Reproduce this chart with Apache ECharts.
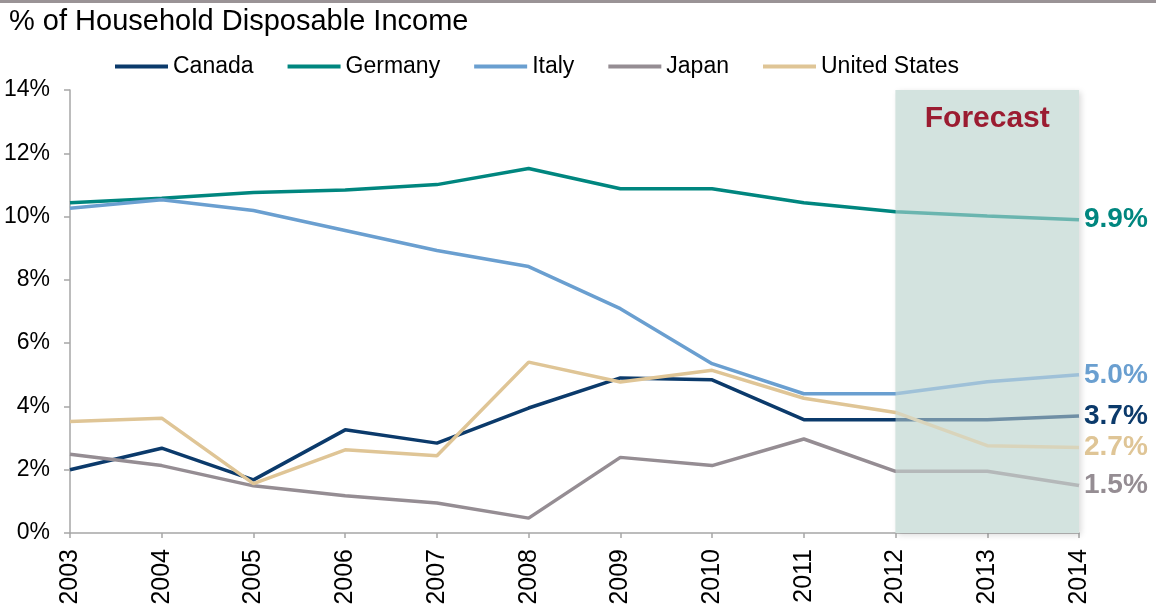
<!DOCTYPE html>
<html>
<head>
<meta charset="utf-8">
<title>% of Household Disposable Income</title>
<script src="https://cdn.jsdelivr.net/npm/echarts@6/dist/echarts.min.js"></script>
<style>
  html, body { margin: 0; padding: 0; background: #fff; }
  #chart { width: 1156px; height: 604px; }
</style>
</head>
<body>
<div id="chart"></div>
<script>
// Household savings rate, % of disposable income (2012–2014 forecast)
const years = ['2003', '2004', '2005', '2006', '2007', '2008', '2009', '2010', '2011', '2012', '2013', '2014'];
const canada  = [2.0, 2.68, 1.68, 3.26, 2.84, 3.95, 4.90, 4.84, 3.58, 3.58, 3.58, 3.7];
const germany = [10.44, 10.58, 10.76, 10.84, 11.01, 11.52, 10.88, 10.88, 10.44, 10.15, 10.02, 9.9];
const italy   = [10.26, 10.53, 10.19, 9.56, 8.93, 8.42, 7.09, 5.35, 4.40, 4.40, 4.78, 5.0];
const japan   = [2.49, 2.13, 1.49, 1.18, 0.95, 0.47, 2.39, 2.13, 2.97, 1.95, 1.95, 1.5];
const us      = [3.52, 3.63, 1.56, 2.63, 2.44, 5.40, 4.77, 5.14, 4.26, 3.81, 2.76, 2.7];
const forecastStart = '2012';
const forecastEnd = '2014';

const FONT = '"Liberation Sans", Arial, Helvetica, sans-serif';
const palette = {
  Canada: '#0b3a6b',
  Germany: '#00867f',
  Italy: '#6a9fd0',
  Japan: '#958d93',
  'United States': '#dfc596'
};
const bandColor = '#d3e3df';

function lineSeries(name, data) {
  return {
    name: name,
    type: 'line',
    data: data,
    z: 3,
    symbol: 'none',
    lineStyle: { width: 3.5, color: palette[name] },
    itemStyle: { color: palette[name] },
    endLabel: {
      show: true,
      distance: 5,
      formatter: p => Number(p.value).toFixed(1) + '%',
      color: palette[name],
      fontFamily: FONT,
      fontSize: 28,
      fontWeight: 'bold'
    }
  };
}

const bandRange = [[{ xAxis: forecastStart }, { xAxis: forecastEnd }]];

const chart = echarts.init(document.getElementById('chart'), null, { renderer: 'canvas' });

chart.setOption({
  animation: false,
  backgroundColor: '#ffffff',
  color: Object.values(palette),
  graphic: [
    { type: 'rect', left: 0, top: 0, shape: { width: 1156, height: 3 }, style: { fill: '#9a9396' } }
  ],
  title: {
    text: '% of Household Disposable Income',
    left: 9,
    top: 7,
    padding: 0,
    textStyle: { fontFamily: FONT, fontSize: 29, fontWeight: 'normal', color: '#000' }
  },
  legend: {
    data: ['Canada', 'Germany', 'Italy', 'Japan', 'United States'],
    left: 115,
    top: 55,
    padding: 0,
    icon: 'rect',
    itemWidth: 53,
    itemHeight: 4,
    itemGap: 34,
    textStyle: { fontFamily: FONT, fontSize: 23, color: '#000' }
  },
  grid: { left: 70, right: 77, top: 90, bottom: 71, containLabel: false, outerBoundsMode: 'none' },
  xAxis: {
    type: 'category',
    data: years,
    boundaryGap: false,
    axisLine: { lineStyle: { color: '#a6a6a6', width: 1.5 } },
    axisTick: { show: true, length: 5, lineStyle: { color: '#a6a6a6', width: 1.5 } },
    axisLabel: {
      rotate: 90,
      margin: 16,
      fontFamily: FONT,
      fontSize: 25,
      color: '#000'
    },
    splitLine: { show: false }
  },
  yAxis: {
    type: 'value',
    min: 0,
    max: 14,
    interval: 2,
    axisLine: { show: true, lineStyle: { color: '#a6a6a6', width: 1.5 } },
    axisTick: { show: true, length: 6, lineStyle: { color: '#a6a6a6', width: 1.5 } },
    axisLabel: {
      formatter: '{value}%',
      margin: 20,
      fontFamily: FONT,
      fontSize: 23,
      color: '#000'
    },
    splitLine: { show: false }
  },
  series: [
    {
      // opaque forecast band with soft shadow, underneath the lines
      name: 'forecast-base',
      type: 'line',
      data: [],
      z: 1,
      silent: true,
      markArea: {
        z: 1,
        silent: true,
        itemStyle: {
          color: bandColor,
          shadowBlur: 6,
          shadowColor: 'rgba(0,0,0,0.15)',
          shadowOffsetX: 2,
          shadowOffsetY: 2
        },
        data: bandRange
      }
    },
    lineSeries('Canada', canada),
    lineSeries('Germany', germany),
    lineSeries('Italy', italy),
    lineSeries('Japan', japan),
    lineSeries('United States', us),
    {
      // translucent wash over the forecast years, fading the lines
      name: 'forecast-wash',
      type: 'line',
      data: [],
      z: 10,
      silent: true,
      markArea: {
        z: 10,
        silent: true,
        itemStyle: { color: 'rgba(211,227,223,0.5)' },
        label: {
          show: true,
          position: 'insideTop',
          distance: 14,
          color: '#9b1c31',
          fontFamily: FONT,
          fontSize: 30,
          fontWeight: 'bold'
        },
        data: [[{ xAxis: forecastStart, name: 'Forecast' }, { xAxis: forecastEnd }]]
      }
    }
  ]
});
</script>
</body>
</html>
